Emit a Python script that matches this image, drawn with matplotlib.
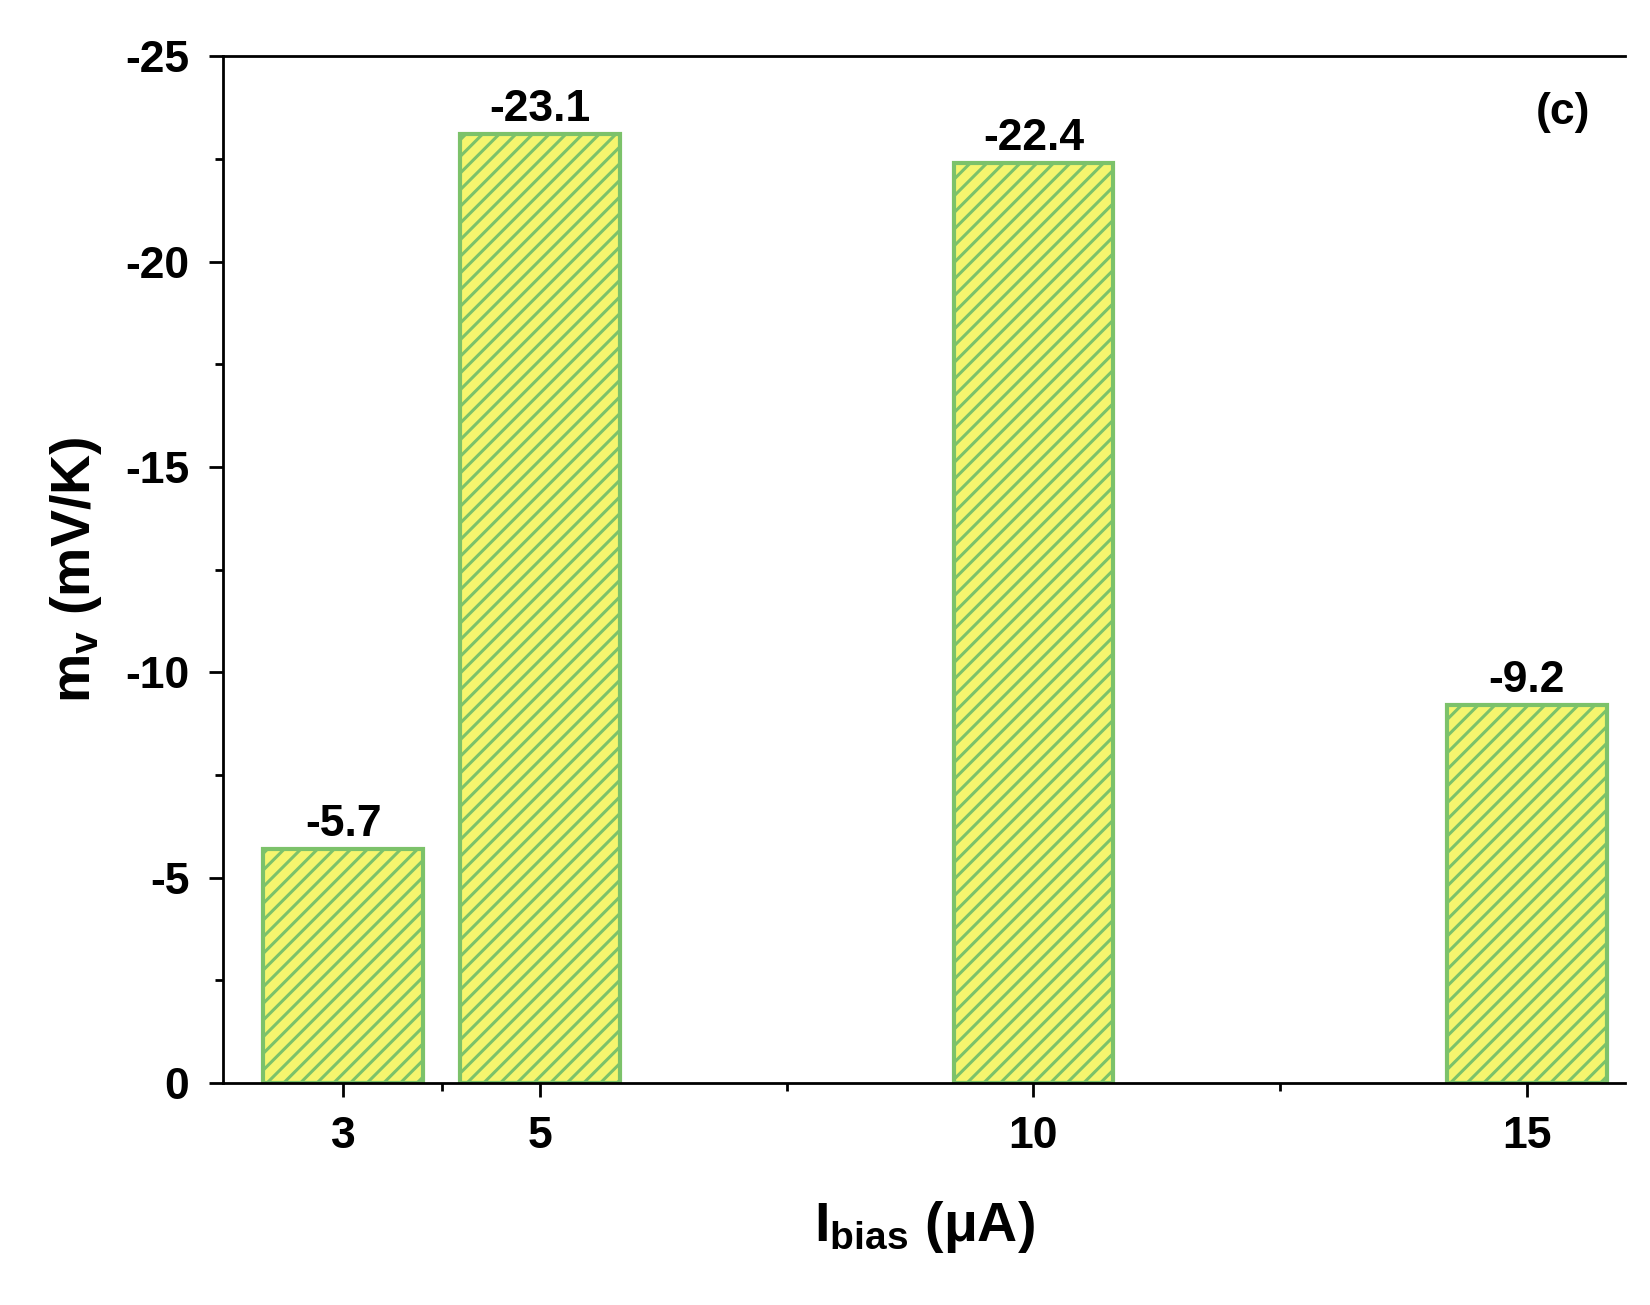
import matplotlib
matplotlib.use("Agg")
import matplotlib.pyplot as plt
from matplotlib.ticker import FixedLocator

x_vals = [3, 5, 10, 15]
mv_vals = [-5.7, -23.1, -22.4, -9.2]
labels = ["-5.7", "-23.1", "-22.4", "-9.2"]

plt.rcParams['font.family'] = ['Liberation Sans', 'DejaVu Sans']
plt.rcParams['mathtext.fontset'] = 'custom'
plt.rcParams['mathtext.bf'] = 'Liberation Sans:bold'
plt.rcParams['mathtext.rm'] = 'Liberation Sans:bold'
plt.rcParams['mathtext.it'] = 'Liberation Sans:bold'
plt.rcParams['hatch.color'] = '#6ab04c'
plt.rcParams['hatch.linewidth'] = 2.2
fig = plt.figure(figsize=(16.5, 13.05), dpi=100)
ax = fig.add_axes([0.135, 0.17, 0.85, 0.787])
ax.bar(x_vals, mv_vals, width=1.62, color='#f5f56e', edgecolor='#7cc26a',
       linewidth=3, hatch='//')
for xv, v, lab in zip(x_vals, mv_vals, labels):
    ax.text(xv, v - 0.1, lab, ha='center', va='bottom', fontsize=32, fontweight='bold')
ax.set_xlim(1.78, 16.0)
ax.set_ylim(0, -25)
ax.set_xticks(x_vals)
ax.set_xticklabels([str(v) for v in x_vals])
ax.xaxis.set_minor_locator(FixedLocator([4, 7.5, 12.5]))
ax.set_yticks([0, -5, -10, -15, -20, -25])
ax.set_yticklabels(['0', '-5', '-10', '-15', '-20', '-25'])
ax.yaxis.set_minor_locator(FixedLocator([-2.5, -7.5, -12.5, -17.5, -22.5]))
ax.tick_params(axis='both', which='major', labelsize=32, width=2, length=10, direction='out', pad=14)
ax.tick_params(axis='both', which='minor', width=2, length=6, direction='out')
for lab in ax.get_xticklabels() + ax.get_yticklabels():
    lab.set_fontweight('bold')
ax.spines['right'].set_visible(False)
for s in ['left', 'bottom', 'top']:
    ax.spines[s].set_linewidth(2)
ax.set_ylabel(r'm$_\mathrm{v}$ (mV/K)', fontsize=40, fontweight='bold', labelpad=15)
ax.set_xlabel(r'I$_\mathrm{bias}$ ($\mathrm{\mu}$A)', fontsize=40, fontweight='bold', labelpad=30)
ax.text(0.975, 0.945, '(c)', transform=ax.transAxes, ha='right', va='center', fontsize=32, fontweight='bold')
fig.savefig('out.png', dpi=100, facecolor='white')
